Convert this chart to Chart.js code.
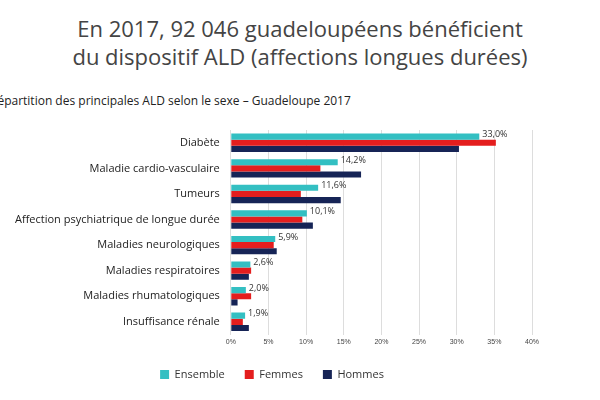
<!DOCTYPE html><html><head><meta charset="utf-8">
<script src="https://cdn.jsdelivr.net/npm/chart.js@4"></script>
<style>body{margin:0;width:600px;height:400px;overflow:hidden;background:#fff;font-family:'Open Sans',sans-serif;position:relative}
#t{position:absolute;top:14px;left:0;width:600px;text-align:center;font-size:22px;line-height:28px;color:#444}
#s{position:absolute;top:92px;left:-10px;font-size:12px;color:#222;white-space:nowrap}
#c{position:absolute;top:0;left:0}</style></head><body>
<div id="t">En 2017, 92 046 guadeloupéens bénéficient<br>du dispositif ALD (affections longues durées)</div>
<div id="s">Répartition des principales ALD selon le sexe – Guadeloupe 2017</div>
<canvas id="c" width="600" height="400"></canvas>
<script>
const categories=["Diabète","Maladie cardio-vasculaire","Tumeurs","Affection psychiatrique de longue durée","Maladies neurologiques","Maladies respiratoires","Maladies rhumatologiques","Insuffisance rénale"];
const ensemble=[33.0,14.2,11.6,10.1,5.9,2.6,2.0,1.9];
const femmes=[35.2,11.9,9.3,9.5,5.7,2.7,2.7,1.6];
const hommes=[30.3,17.3,14.6,10.9,6.1,2.4,0.9,2.4];
const ticks=["0%","5%","10%","15%","20%","25%","30%","35%","40%"];
const lbl={id:'lbl',afterDatasetsDraw(ch){const m=ch.getDatasetMeta(0),c=ch.ctx;c.save();c.font='9px "Open Sans"';c.fillStyle='#333';c.textBaseline='middle';
m.data.forEach((b,i)=>c.fillText(ensemble[i].toFixed(1).replace('.',',')+'%',b.x+3,b.y-2));c.restore();}};
new Chart(document.getElementById('c'),{type:'bar',data:{labels:categories,datasets:[
{label:'Ensemble',data:ensemble,backgroundColor:'#33BFC2'},
{label:'Femmes',data:femmes,backgroundColor:'#E41E1E'},
{label:'Hommes',data:hommes,backgroundColor:'#162456'}]},
options:{indexAxis:'y',responsive:false,animation:false,layout:{padding:{top:130,left:12,right:68,bottom:10}},
datasets:{bar:{categoryPercentage:0.72,barPercentage:1}},
plugins:{legend:{position:'bottom',labels:{boxWidth:9,boxHeight:9,font:{size:11,family:'Open Sans'},color:'#333',padding:20}},tooltip:{enabled:false}},
scales:{x:{min:0,max:40,ticks:{stepSize:5,callback:(v,i)=>ticks[i],font:{size:7},color:'#444'},grid:{color:'#ddd',drawTicks:false},border:{display:false}},
y:{ticks:{font:{size:11,family:'Open Sans'},color:'#222'},grid:{display:false},border:{display:false}}}},plugins:[lbl]});
</script></body></html>
